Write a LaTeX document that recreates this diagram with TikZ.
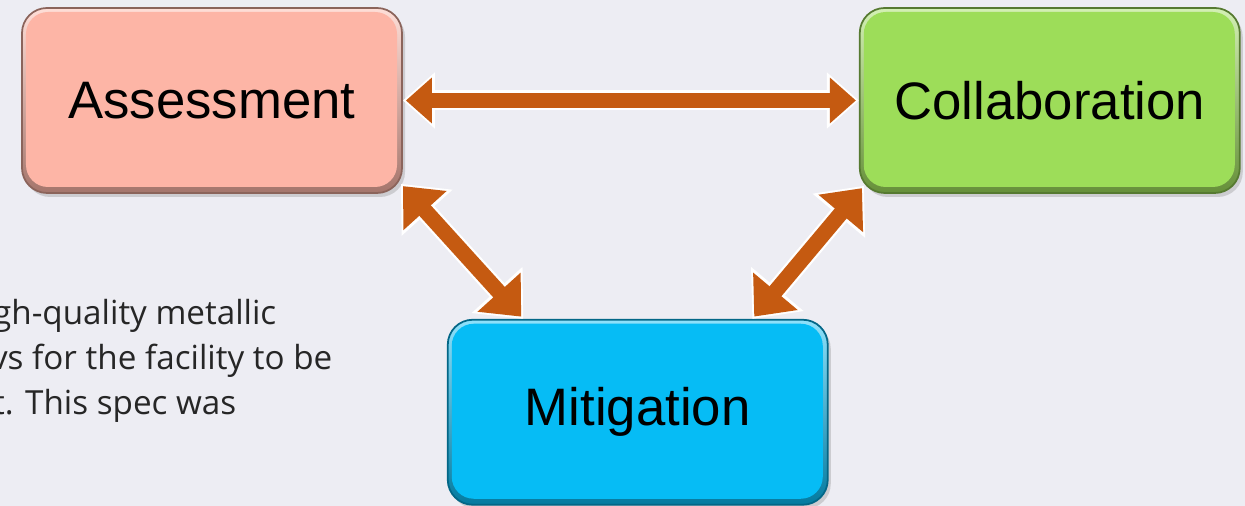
\documentclass[tikz,border=0pt]{standalone}
\usepackage{fontspec}
\setmainfont{Liberation Sans}
\newfontfamily\bodyfont{Open Sans}
\usetikzlibrary{positioning,arrows.meta,calc,shadows}
\definecolor{asscol}{RGB}{253,181,166}
\definecolor{colcol}{RGB}{157,221,89}
\definecolor{mitcol}{RGB}{6,188,245}
\definecolor{arrcol}{RGB}{197,90,17}
\definecolor{bgcol}{RGB}{237,237,243}
\tikzset{
  box/.style={rounded corners=0.25cm,minimum width=3.8cm,minimum height=1.85cm,
    inner sep=0pt,font=\fontsize{15}{18}\selectfont,line width=0.5pt,
    top color=#1!45!white,bottom color=#1!65!black,draw=#1!55!black,
    path picture={\fill[#1,rounded corners=0.22cm]
      ([shift={(0.04,0.06)}]path picture bounding box.south west) rectangle
      ([shift={(-0.05,-0.04)}]path picture bounding box.north east);},  % flat face, bevelled rim
    drop shadow={shadow xshift=0.03cm,shadow yshift=-0.04cm,opacity=0.3}},
  arrback/.style={{Triangle[length=#1cm+0.06cm,width=#1cm*1.7+0.1cm]}-{Triangle[length=#1cm+0.06cm,width=#1cm*1.7+0.1cm]},
    line width=0.2cm,white},  % white rim of the block arrow
  arrfront/.style={{Triangle[length=#1cm,width=#1cm*1.7]}-{Triangle[length=#1cm,width=#1cm*1.7]},
    line width=0.155cm,arrcol,shorten <=0.03cm,shorten >=0.03cm},
  bodytxt/.style={font=\bodyfont\fontsize{9.45}{12}\selectfont,text=black!85,
    anchor=base east,inner sep=0pt},
}
\begin{document}
\begin{tikzpicture}
  \useasboundingbox (0,0) rectangle (12.45,5.06);
  \clip (0,0) rectangle (12.45,5.06);
  \fill[bgcol] (0,0) rectangle (12.45,5.06);
  % slide text behind the diagram
  \node[bodytxt] (ln1) at (2.77,1.81) {gh-quality metallic};
  \node[bodytxt] (ln2) at (3.33,1.36) {vs for the facility to be};
  \node[bodytxt] (ln3) at (2.37,0.91) {t. This spec was};
  % boxes
  \node[box=asscol] (ass) at (2.12,4.055) {Assessment};
  \node[box=colcol,right=4.56cm of ass] (col) {Collaboration};
  \node[box=mitcol,below right=1.25cm and 0.44cm of ass] (mit) {Mitigation};
  % arrow ends
  \coordinate (a1) at ([shift={(-0.02,0.1)}]ass.south east);
  \coordinate (c1) at ([shift={(0.05,0.08)}]col.south west);
  \coordinate (m1) at ($(mit.north west)!0.2!(mit.north east)$);
  \coordinate (m2) at ($(mit.north west)!0.8!(mit.north east)$);
  % arrows
  \draw[arrback=0.26] (ass.east) -- (col.west);
  \draw[arrfront=0.26] (ass.east) -- (col.west);
  \draw[arrback=0.33] (a1) -- (m1);
  \draw[arrfront=0.33] (a1) -- (m1);
  \draw[arrback=0.33] (c1) -- (m2);
  \draw[arrfront=0.33] (c1) -- (m2);
\end{tikzpicture}
\end{document}
